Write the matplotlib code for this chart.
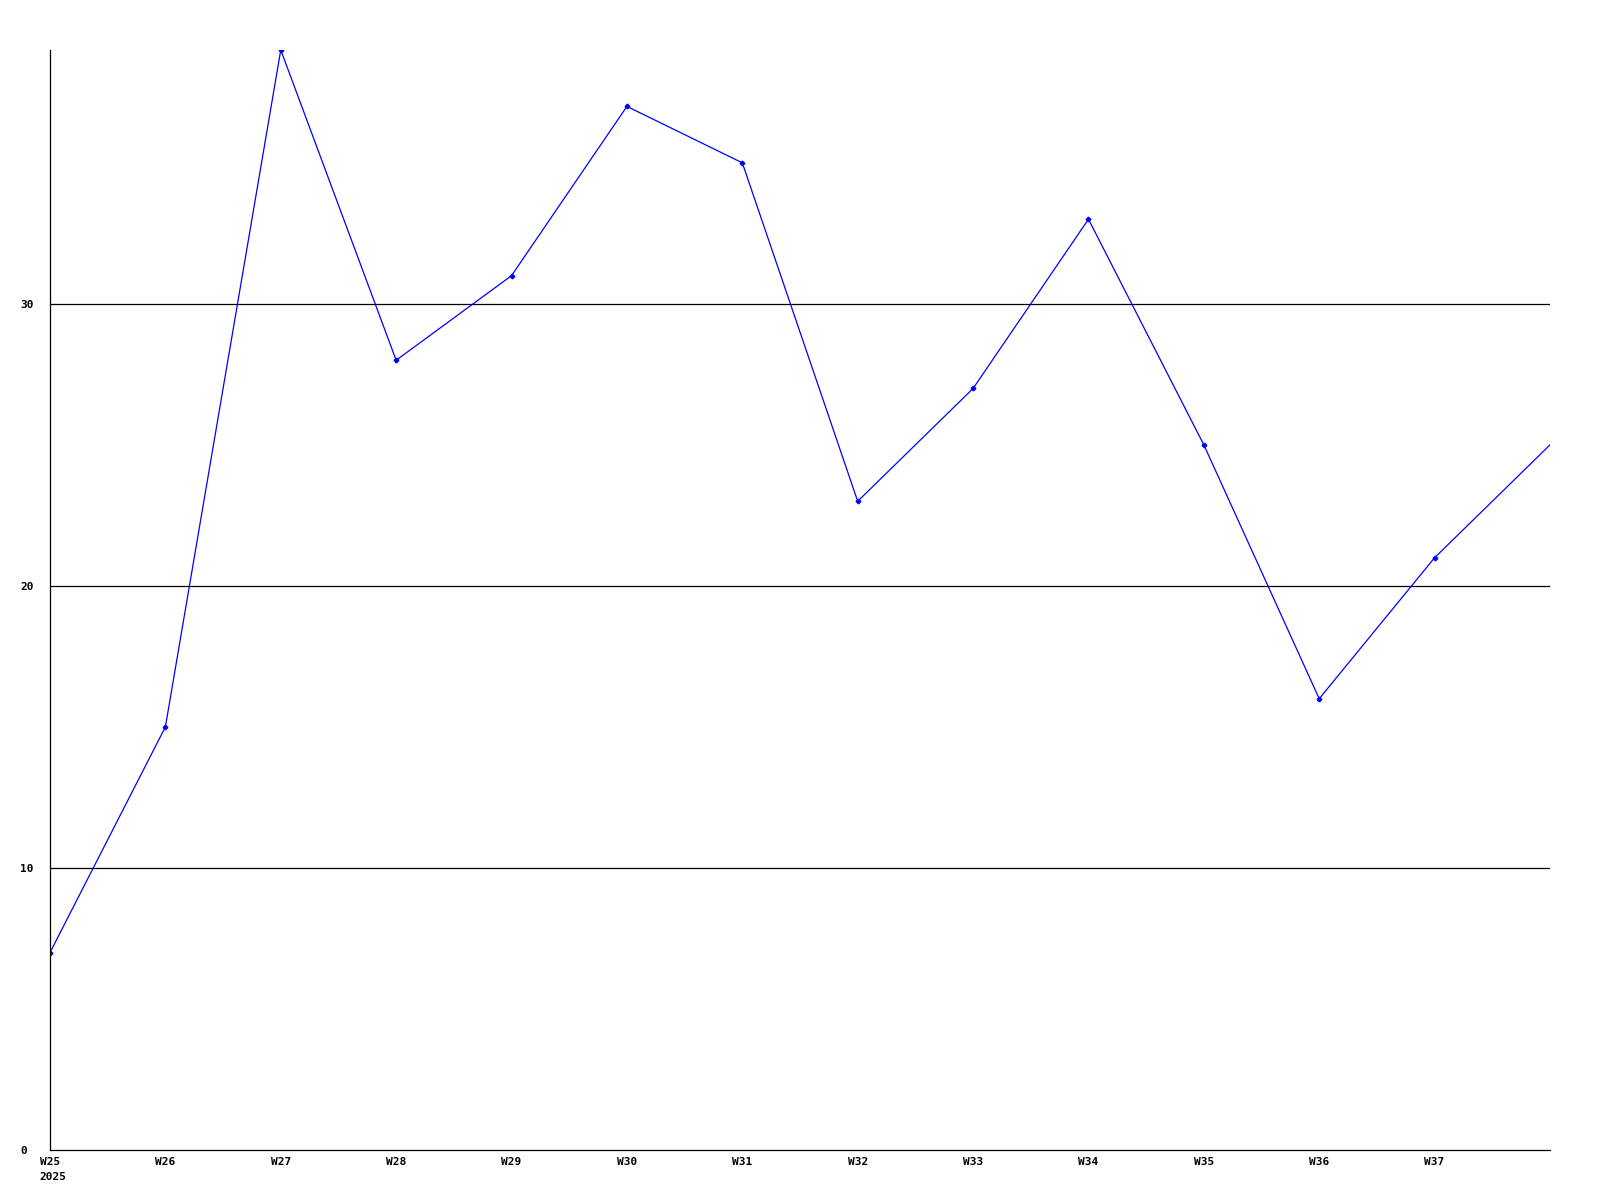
import matplotlib
matplotlib.use("Agg")
import matplotlib.pyplot as plt

weeks = ["W25", "W26", "W27", "W28", "W29", "W30", "W31",
         "W32", "W33", "W34", "W35", "W36", "W37", "W38"]
counts = [7, 15, 39, 28, 31, 37, 35, 23, 27, 33, 25, 16, 21, 25]
year_label = "2025"
yticks = [0, 10, 20, 30]

fig = plt.figure(figsize=(16, 12), dpi=100)
ax = fig.add_axes([50/1600, 50/1200, 1500/1600, 1100/1200])

x = list(range(len(weeks)))
ax.plot(x, counts, color="#0000ff", lw=0.9, marker="P", ms=3,
        markevery=list(range(len(weeks) - 1)))

ax.set_xlim(0, len(weeks) - 1)
ax.set_ylim(0, 39)

for v in yticks[1:]:
    ax.axhline(v, color="black", lw=0.9, zorder=0)

font = dict(family="DejaVu Sans Mono", weight="bold", size=8)
ax.set_xticks(x[:-1])
ax.set_xticklabels(weeks[:-1], **font)
ax.set_yticks(yticks)
ax.set_yticklabels([str(v) for v in yticks], ha="left", **font)
ax.tick_params(axis="x", length=0, pad=5)
ax.tick_params(axis="y", length=0, pad=21.6)

ax.annotate(year_label, xy=(0, 0), xycoords=("data", "axes fraction"),
            xytext=(-7.5, -16), textcoords="offset points",
            ha="left", va="top", **font)

for s in ["top", "right"]:
    ax.spines[s].set_visible(False)
ax.spines["left"].set_linewidth(0.9)
ax.spines["bottom"].set_linewidth(0.9)

fig.savefig("out.png", dpi=100)
